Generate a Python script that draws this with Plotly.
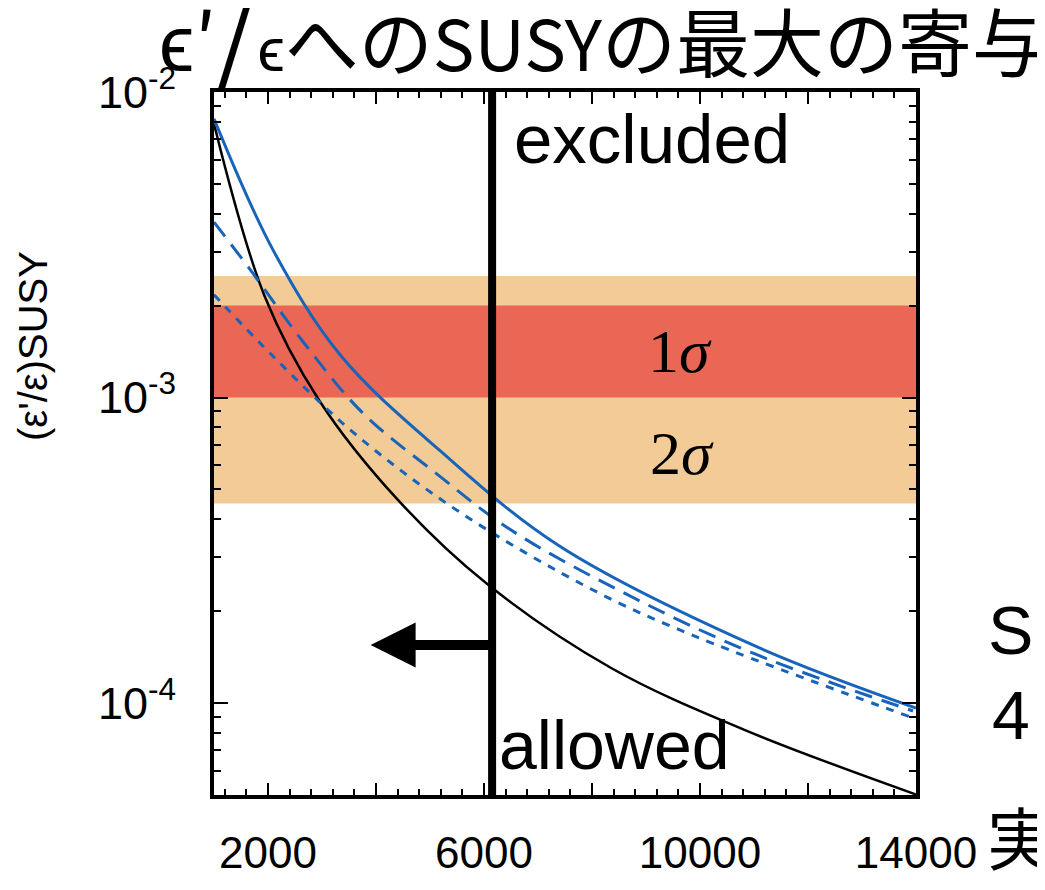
import math
import plotly.graph_objects as go

# ---------------- data ----------------
mass_black = [1000, 1936, 2946, 4397, 6049, 8363, 10823, 14000]
eps_black = [7.87e-3, 2.15e-3, 9.8e-4, 4.64e-4, 2.46e-4, 1.30e-4, 8.17e-5, 5.02e-5]

mass_blue = [1000, 2102, 3350, 5186, 7390, 11007, 14000]
eps_blue = [8.17e-3, 3.02e-3, 1.37e-3, 6.70e-4, 3.27e-4, 1.54e-4, 9.63e-5]

mass_blue_long = [1000, 1643, 2653, 3754, 5095, 6472, 8620, 11007, 13945]
eps_blue_long = [3.75e-3, 2.66e-3, 1.52e-3, 8.9e-4, 5.68e-4, 3.71e-4, 2.28e-4, 1.45e-4, 9.42e-5]

mass_blue_short = [1000, 2120, 3589, 5554, 8088, 9924, 13945]
eps_blue_short = [2.17e-3, 1.35e-3, 7.66e-4, 4.21e-4, 2.31e-4, 1.65e-4, 8.94e-5]

band_1sigma = [1.0e-3, 2.0e-3]
band_2sigma = [4.5e-4, 2.5e-3]
mass_bound = 6150
arrow_tip_mass = 3900
arrow_level = 1.55e-4

x_range = [1000, 14000]
y_range = [5.0e-5, 1.0e-2]
x_tickvals = [2000, 4000, 6000, 8000, 10000, 12000, 14000]
x_ticktext = ["2000", "", "6000", "", "10000", "", "14000"]
y_tickvals = [1e-4, 1e-3, 1e-2]
y_ticktext = ["10<sup>-4</sup>", "10<sup>-3</sup>", "10<sup>-2</sup>"]

y_label = "(ε'/ε)SUSY"

# ---------------- styles / layout ----------------
BLUE = "rgb(24,100,186)"
ORANGE = "rgb(242,203,150)"
RED = "rgb(235,103,85)"
SANS = "Liberation Sans, Arial, sans-serif"
CJK = "Noto Sans CJK JP, sans-serif"

W, H = 1045, 890
L, T, PW, PH = 206, 84, 702, 703
R = W - L - PW
B = H - T - PH
OFF = 8  # page body margin


def sx(px):
    return (px - OFF - L) / PW


def sy(py):
    return (T + PH - (py - OFF)) / PH


title_html = ("<span style='font-size:80px'>ϵ′</span>"
              "<span style='font-size:104px'>/</span>"
              "<span style='font-size:62px'>ϵ</span>"
              "<span style='font-size:74px'>への</span>"
              "<span style='font-size:70px'>SUSY</span>"
              "<span style='font-size:74px'>の最大の寄与</span>")

fig = go.Figure()

for (lo, hi), col in [(band_2sigma, ORANGE), (band_1sigma, RED)]:
    fig.add_trace(go.Scatter(
        x=[x_range[0], x_range[1], x_range[1], x_range[0]],
        y=[lo, lo, hi, hi], fill="toself", fillcolor=col,
        mode="none", hoverinfo="skip", showlegend=False))

fig.add_trace(go.Scatter(x=mass_black, y=eps_black, mode="lines",
                         line=dict(color="black", width=2.5, shape="spline", smoothing=1.0), showlegend=False))
fig.add_trace(go.Scatter(x=mass_blue, y=eps_blue, mode="lines",
                         line=dict(color=BLUE, width=3, shape="spline", smoothing=1.0), showlegend=False))
fig.add_trace(go.Scatter(x=mass_blue_long, y=eps_blue_long, mode="lines",
                         line=dict(color=BLUE, width=3, dash="18px,10px", shape="spline", smoothing=1.0),
                         showlegend=False))
fig.add_trace(go.Scatter(x=mass_blue_short, y=eps_blue_short, mode="lines",
                         line=dict(color=BLUE, width=3, dash="8px,8px", shape="spline", smoothing=1.0),
                         showlegend=False))

fig.add_shape(type="line", xref="x", yref="paper", x0=mass_bound, x1=mass_bound, y0=0, y1=1,
              line=dict(color="black", width=8), layer="above")

fig.add_annotation(x=arrow_tip_mass, y=math.log10(arrow_level), xref="x", yref="y",
                   ax=mass_bound, ay=math.log10(arrow_level), axref="x", ayref="y",
                   text="", showarrow=True, arrowhead=2, arrowwidth=10, arrowsize=0.9,
                   arrowcolor="black", standoff=0)

fig.add_annotation(x=sx(512), y=sy(140), xref="paper", yref="paper", text="excluded",
                   xanchor="left", yanchor="middle", showarrow=False,
                   font=dict(family=SANS, size=69, color="black"))
fig.add_annotation(x=sx(497), y=sy(745), xref="paper", yref="paper", text="allowed",
                   xanchor="left", yanchor="middle", showarrow=False,
                   font=dict(family=SANS, size=68, color="black"))
fig.add_annotation(x=sx(680), y=sy(351), xref="paper", yref="paper", text="1<i>σ</i>",
                   xanchor="center", yanchor="middle", showarrow=False,
                   font=dict(family="Liberation Serif, serif", size=62, color="black"))
fig.add_annotation(x=sx(682), y=sy(453), xref="paper", yref="paper", text="2<i>σ</i>",
                   xanchor="center", yanchor="middle", showarrow=False,
                   font=dict(family="Liberation Serif, serif", size=62, color="black"))

# text cut off at the right edge of the slide
for ch, py, fam, fx in [("S", 630, SANS, 986), ("4", 715, SANS, 990), ("実", 835, CJK, 985)]:
    fig.add_annotation(x=sx(fx), y=sy(py), xref="paper", yref="paper", text=ch,
                       xanchor="left", yanchor="middle", showarrow=False,
                       font=dict(family=fam, size=68, color="black"))

fig.add_annotation(x=sx(157), y=sy(103), xref="paper", yref="paper", text=title_html,
                   xanchor="left", yanchor="bottom", showarrow=False,
                   font=dict(family=CJK, size=74, color="black"))

fig.add_annotation(x=sx(33), y=sy(346), xref="paper", yref="paper", text=y_label,
                   xanchor="center", yanchor="middle", textangle=-90, showarrow=False,
                   font=dict(family=SANS, size=40, color="black"))

fig.update_xaxes(range=x_range, tickvals=x_tickvals, ticktext=x_ticktext,
                 showline=True, linewidth=4, linecolor="black", mirror="ticks",
                 ticks="inside", ticklen=12, tickwidth=2, tickcolor="black",
                 minor=dict(dtick=400, tick0=0, ticks="inside", ticklen=6, tickwidth=2, tickcolor="black"),
                 showgrid=False, zeroline=False, ticklabelstandoff=16,
                 tickfont=dict(family=SANS, size=44, color="black"))
fig.update_yaxes(type="log", range=[math.log10(y_range[0]), math.log10(y_range[1])],
                 tickvals=y_tickvals, ticktext=y_ticktext,
                 showline=True, linewidth=4, linecolor="black", mirror="ticks",
                 ticks="inside", ticklen=14, tickwidth=2, tickcolor="black",
                 minor=dict(dtick="D1", ticks="inside", ticklen=7, tickwidth=2, tickcolor="black"),
                 showgrid=False, zeroline=False, ticklabelstandoff=25,
                 tickfont=dict(family=SANS, size=45, color="black"))

fig.update_layout(width=W, height=H, margin=dict(l=L, r=R, t=T, b=B),
                  paper_bgcolor="white", plot_bgcolor="white", showlegend=False)

fig.write_html("out.html")
